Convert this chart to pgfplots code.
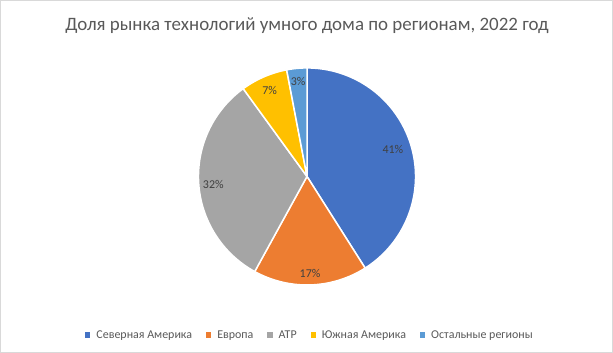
\documentclass[border=0pt]{standalone}
\usepackage{pgfplots}
\pgfplotsset{compat=1.18}
\usepackage{fontspec}
\setmainfont{Carlito}
\definecolor{cBlue}{HTML}{4472C4}
\definecolor{cOrange}{HTML}{ED7D31}
\definecolor{cGray}{HTML}{A5A5A5}
\definecolor{cYellow}{HTML}{FFC000}
\definecolor{cLBlue}{HTML}{5B9BD5}
\definecolor{cTitle}{HTML}{595959}
\definecolor{cLabel}{HTML}{404040}
\definecolor{cFrame}{HTML}{D9D9D9}
\begin{document}
\begin{tikzpicture}
\begin{axis}[
  scale only axis, width=613bp, height=353bp,
  xmin=0, xmax=613, ymin=0, ymax=353,
  hide axis, clip=false,
  legend columns=5,
  legend style={at={(310/613,18/353)}, anchor=center, draw=none, fill=none,
    font=\fontsize{12}{14}\selectfont, text=cTitle, inner sep=0pt,
    /tikz/every odd column/.append style={column sep=4bp},
    /tikz/every even column/.append style={column sep=12bp}},
  legend cell align=left,
  legend image code/.code={\fill[#1, draw=none] (0bp,-2.6bp) rectangle (5.2bp,2.6bp);},
]
% frame
\addplot[draw=cFrame, line width=0.8bp, forget plot] coordinates {(0.5,0.5) (612.5,0.5) (612.5,352.5) (0.5,352.5) (0.5,0.5)};
% shares (percent): 41, 17, 32, 7, 3 ; start at 90 deg, clockwise
\addplot[fill=cBlue, draw=white, line width=1.5bp, domain=90:-57.6, samples=80, variable=\t]
  ({307+108.5*cos(t)},{176.5+108.5*sin(t)}) -- (axis cs:307,176.5) -- cycle;
\addplot[fill=cOrange, draw=white, line width=1.5bp, domain=-57.6:-118.8, samples=40, variable=\t]
  ({307+108.5*cos(t)},{176.5+108.5*sin(t)}) -- (axis cs:307,176.5) -- cycle;
\addplot[fill=cGray, draw=white, line width=1.5bp, domain=-118.8:-234, samples=70, variable=\t]
  ({307+108.5*cos(t)},{176.5+108.5*sin(t)}) -- (axis cs:307,176.5) -- cycle;
\addplot[fill=cYellow, draw=white, line width=1.5bp, domain=-234:-259.2, samples=20, variable=\t]
  ({307+108.5*cos(t)},{176.5+108.5*sin(t)}) -- (axis cs:307,176.5) -- cycle;
\addplot[fill=cLBlue, draw=white, line width=1.5bp, domain=-259.2:-270, samples=10, variable=\t]
  ({307+108.5*cos(t)},{176.5+108.5*sin(t)}) -- (axis cs:307,176.5) -- cycle;
\legend{Северная Америка, Европа, АТР, Южная Америка, Остальные регионы}
% labels
\begin{scope}[every node/.style={font=\fontsize{12}{14}\selectfont, text=cLabel}]
\node at (axis cs:{307+90*cos(17.5)},{176.5+90*sin(17.5)}) {41\%};
\node at (axis cs:{307+97*cos(-88.2)},{176.5+97*sin(-88.2)}) {17\%};
\node at (axis cs:{307+94*cos(184.6)},{176.5+94*sin(184.6)}) {32\%};
\node at (axis cs:{307+94*cos(113.4)},{176.5+94*sin(113.4)}) {7\%};
\node at (axis cs:{307+95*cos(95.4)},{176.5+95*sin(95.4)}) {3\%};
\end{scope}
\node[font=\fontsize{19}{22}\selectfont, text=cTitle] at (axis cs:307,327) {Доля рынка технологий умного дома по регионам, 2022 год};
\end{axis}
\end{tikzpicture}
\end{document}
